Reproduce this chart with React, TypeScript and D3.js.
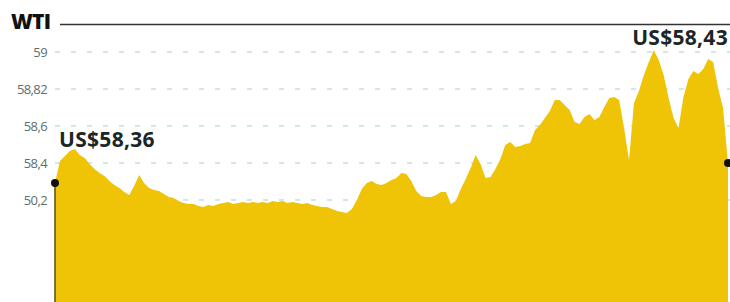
import React, { useEffect } from "react";
import * as d3 from "d3";

const title = "WTI";
const tickValues = [59, 58.8, 58.6, 58.4, 58.2];
const tickLabels = ["59", "58,82", "58,6", "58,4", "50,2"];
const firstLabel = "US$58,36";
const lastLabel = "US$58,43";

// WTI price, uniformly spaced intraday readings
const prices = [
  58.292, 58.411, 58.438, 58.465, 58.476, 58.443, 58.427, 58.395, 58.368, 58.346,
  58.33, 58.303, 58.281, 58.265, 58.243, 58.227, 58.276, 58.335, 58.292, 58.265,
  58.254, 58.249, 58.232, 58.216, 58.211, 58.195, 58.184, 58.178, 58.178, 58.168,
  58.162, 58.173, 58.168, 58.178, 58.184, 58.189, 58.178, 58.184, 58.189, 58.184,
  58.189, 58.184, 58.189, 58.184, 58.195, 58.189, 58.195, 58.184, 58.189, 58.184,
  58.178, 58.184, 58.173, 58.168, 58.162, 58.162, 58.151, 58.141, 58.135, 58.13,
  58.151, 58.2, 58.259, 58.292, 58.303, 58.286, 58.281, 58.292, 58.308, 58.319,
  58.346, 58.341, 58.303, 58.249, 58.222, 58.216, 58.216, 58.227, 58.243, 58.243,
  58.178, 58.195, 58.259, 58.314, 58.373, 58.443, 58.395, 58.319, 58.324, 58.368,
  58.422, 58.497, 58.514, 58.486, 58.492, 58.503, 58.508, 58.578, 58.605, 58.643,
  58.681, 58.741, 58.741, 58.714, 58.686, 58.622, 58.611, 58.649, 58.665, 58.632,
  58.649, 58.703, 58.751, 58.757, 58.741, 58.589, 58.416, 58.724, 58.789, 58.876,
  58.946, 59.011, 58.957, 58.876, 58.751, 58.643, 58.589, 58.757, 58.854, 58.897,
  58.881, 58.908, 58.962, 58.946, 58.805, 58.697, 58.4,
];

const W = 730;
const H = 302;

export default function App() {
  useEffect(() => {
    document.body.style.margin = "0";
  }, []);

  const x = d3.scaleLinear().domain([0, prices.length - 1]).range([55, 728]);
  const y = d3.scaleLinear().domain([58.2, 59]).range([200, 52]);

  const area = d3
    .area<number>()
    .x((_, i) => x(i))
    .y0(H)
    .y1((d) => y(d))
    .curve(d3.curveLinear);

  const n = prices.length;
  const labelFont = "'Open Sans', 'DejaVu Sans', sans-serif";

  return (
    <svg width={W} height={H} style={{ display: "block", background: "#fff" }}>
      {/* title */}
      <text
        x={11}
        y={29}
        fontFamily={labelFont}
        fontWeight={800}
        fontSize={21}
        letterSpacing={-0.8}
        fill="#111"
      >
        {title}
      </text>
      <line x1={60} x2={730} y1={24.5} y2={24.5} stroke="#333" strokeWidth={1.5} />

      {/* grid + ticks */}
      {tickValues.map((t, i) => (
        <g key={t}>
          <line
            x1={55}
            x2={730}
            y1={y(t)}
            y2={y(t)}
            stroke="#9dd2da"
            strokeWidth={1.2}
            strokeDasharray="5 11"
          />
          <text
            x={47}
            y={y(t)}
            dy="0.36em"
            textAnchor="end"
            fontFamily={labelFont}
            fontSize={13}
            letterSpacing={-0.6}
            fill="#5d6e70"
          >
            {tickLabels[i]}
          </text>
        </g>
      ))}

      {/* area */}
      <path d={area(prices) || ""} fill="#f0c406" />
      <line
        x1={x(0)}
        x2={x(0)}
        y1={y(prices[0])}
        y2={H}
        stroke="#5c5a14"
        strokeWidth={1.6}
      />

      {/* end points */}
      <circle cx={x(0)} cy={y(prices[0])} r={4} fill="#111" />
      <circle cx={x(n - 1)} cy={y(prices[n - 1])} r={4} fill="#111" />

      <text
        x={59}
        y={147}
        fontFamily={labelFont}
        fontWeight={700}
        fontSize={21}
        letterSpacing={0.3}
        fill="#1b2626"
      >
        {firstLabel}
      </text>
      <text
        x={728}
        y={45}
        textAnchor="end"
        fontFamily={labelFont}
        fontWeight={700}
        fontSize={21}
        letterSpacing={0.3}
        fill="#1b2626"
      >
        {lastLabel}
      </text>
    </svg>
  );
}
